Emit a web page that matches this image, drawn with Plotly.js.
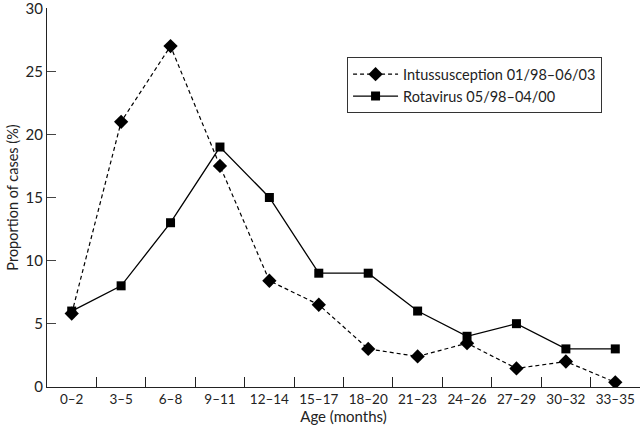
<!DOCTYPE html>
<html>
<head>
<meta charset="utf-8">
<script src="https://cdn.plot.ly/plotly-3.0.1.min.js"></script>
<style>html,body{margin:0;padding:0;background:#fff;}#chart{width:640px;height:426px;}</style>
</head>
<body>
<div id="chart"></div>
<script>
var categories = ["0–2","3–5","6–8","9–11","12–14","15–17","18–20","21–23","24–26","27–29","30–32","33–35"];
var intussusception = [5.8, 21, 27, 17.5, 8.4, 6.5, 3, 2.4, 3.45, 1.45, 2, 0.35];
var rotavirus = [6, 8, 13, 19, 15, 9, 9, 6, 4, 5, 3, 3];
var yTicks = [0, 5, 10, 15, 20, 25, 30];
var nameIntus = "Intussusception 01/98–06/03";
var nameRota = "Rotavirus 05/98–04/00";

var fontFam = "Lato, 'DejaVu Sans', sans-serif";
var traces = [
  {x: categories, y: intussusception, name: nameIntus, type: "scatter", mode: "lines+markers",
   line: {color: "#000", width: 1.2, dash: "4px,3px"},
   marker: {symbol: "diamond", size: 11, color: "#000"}},
  {x: categories, y: rotavirus, name: nameRota, type: "scatter", mode: "lines+markers",
   line: {color: "#000", width: 1.3},
   marker: {symbol: "square", size: 9, color: "#000"}}
];
var layout = {
  width: 640, height: 426,
  margin: {l: 47, r: 0, t: 8, b: 39},
  paper_bgcolor: "#fff", plot_bgcolor: "#fff",
  font: {family: fontFam, size: 13, color: "#222"},
  showlegend: true,
  legend: {x: 0.506, y: 0.87, xanchor: "left", yanchor: "top",
    bordercolor: "#333", borderwidth: 1, bgcolor: "#fff", itemwidth: 45,
    font: {family: fontFam, size: 14.5, color: "#222"}, tracegroupgap: 0},
  xaxis: {type: "category", range: [-0.5, 11.5], showgrid: false, zeroline: false,
    showline: true, linecolor: "#222", linewidth: 1,
    ticks: "inside", tickson: "boundaries", ticklen: 10, tickcolor: "#222", tickwidth: 1,
    tickfont: {size: 13.5}, automargin: false, ticklabeloverflow: "allow",
    title: {text: "Age (months)", font: {size: 15}, standoff: 0}},
  yaxis: {range: [-0.02, 30.02], tickvals: yTicks, showgrid: false, zeroline: false,
    showline: true, linecolor: "#222", linewidth: 1,
    ticks: "inside", ticklen: 9, tickcolor: "#444", tickwidth: 1,
    tickfont: {size: 15}, automargin: false, ticklabeloverflow: "allow",
    title: {text: "Proportion of cases (%)", font: {size: 14.5}, standoff: 3}}
};
Plotly.newPlot("chart", traces, layout, {staticPlot: true, displayModeBar: false});
</script>
</body>
</html>
